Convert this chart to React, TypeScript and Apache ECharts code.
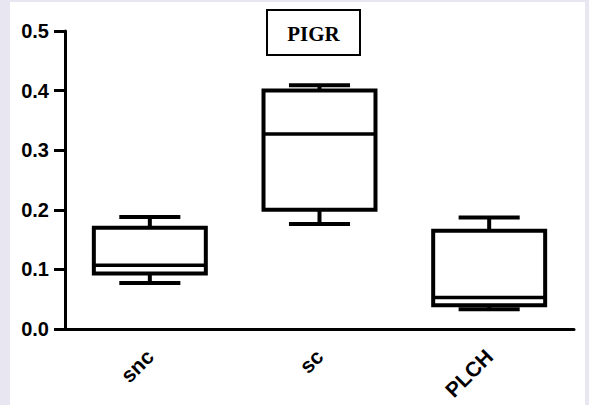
import React, { useEffect, useRef } from "react";
import * as echarts from "echarts";

// Group names on the x axis
const categories = ["snc", "sc", "PLCH"];

// Five-number summaries per group: [min, Q1, median, Q3, max]
const sncStats = [0.077, 0.093, 0.107, 0.170, 0.188];
const scStats = [0.176, 0.200, 0.327, 0.400, 0.409];
const plchStats = [0.033, 0.040, 0.053, 0.165, 0.187];

// Y axis range and step
const yMin = 0;
const yMax = 0.5;
const yStep = 0.1;

const chartTitle = "PIGR";

export default function App() {
  const ref = useRef<HTMLDivElement>(null);

  useEffect(() => {
    if (!ref.current) return;
    const chart = echarts.init(ref.current, undefined, { renderer: "svg" });

    const stats = [sncStats, scStats, plchStats];
    const data = stats.map((s, i) => [i, ...s]);

    const renderItem = (params: any, api: any) => {
      const cat = api.value(0);
      const lo = api.coord([cat, api.value(1)]);
      const q1 = api.coord([cat, api.value(2)]);
      const med = api.coord([cat, api.value(3)]);
      const q3 = api.coord([cat, api.value(4)]);
      const hi = api.coord([cat, api.value(5)]);
      const band = api.size([1, 0])[0];
      const bw = band * 0.66;
      const cw = band * 0.36;
      const x = lo[0];
      const stroke = { stroke: "#000", lineWidth: 4, fill: "none" };
      return {
        type: "group",
        children: [
          { type: "line", shape: { x1: x, y1: q3[1], x2: x, y2: hi[1] }, style: stroke },
          { type: "line", shape: { x1: x - cw / 2, y1: hi[1], x2: x + cw / 2, y2: hi[1] }, style: stroke },
          { type: "line", shape: { x1: x, y1: q1[1], x2: x, y2: lo[1] }, style: stroke },
          { type: "line", shape: { x1: x - cw / 2, y1: lo[1], x2: x + cw / 2, y2: lo[1] }, style: stroke },
          {
            type: "rect",
            shape: { x: x - bw / 2, y: q3[1], width: bw, height: q1[1] - q3[1] },
            style: { stroke: "#000", lineWidth: 4, fill: "#fff" },
          },
          { type: "line", shape: { x1: x - bw / 2, y1: med[1], x2: x + bw / 2, y2: med[1] }, style: { stroke: "#000", lineWidth: 3.5 } },
        ],
      };
    };

    const labelFont = {
      color: "#000",
      fontWeight: "bold",
      fontFamily: "'Liberation Sans', Arial, sans-serif",
    };

    chart.setOption({
      animation: false,
      backgroundColor: "#ffffff",
      grid: { left: 55, right: 11, top: 29, bottom: 76 },
      graphic: [
        {
          type: "group",
          left: 256,
          top: 7,
          children: [
            {
              type: "rect",
              shape: { x: 0, y: 0, width: 93, height: 45 },
              style: { fill: "#fff", stroke: "#000", lineWidth: 2 },
            },
            {
              type: "text",
              x: 46.5,
              y: 23.5,
              style: {
                text: chartTitle,
                fill: "#000",
                font: "bold 21px 'Liberation Serif', 'Times New Roman', serif",
                align: "center",
                verticalAlign: "middle",
              },
            },
          ],
        },
      ],
      xAxis: {
        type: "category",
        data: categories,
        boundaryGap: true,
        axisLine: { lineStyle: { color: "#000", width: 3 } },
        axisTick: { alignWithLabel: true, length: 9, lineStyle: { color: "#000", width: 3 } },
        axisLabel: { rotate: 45, margin: 24, fontSize: 21, ...labelFont },
        splitLine: { show: false },
      },
      yAxis: {
        type: "value",
        min: yMin,
        max: yMax,
        interval: yStep,
        axisLine: { show: true, lineStyle: { color: "#000", width: 3 } },
        axisTick: { show: true, inside: false, length: 11, lineStyle: { color: "#000", width: 3 } },
        axisLabel: {
          margin: 16,
          fontSize: 20,
          ...labelFont,
          formatter: (v: number) => v.toFixed(1),
        },
        splitLine: { show: false },
      },
      series: [
        {
          type: "custom",
          renderItem,
          data,
          encode: { x: 0, y: [1, 2, 3, 4, 5] },
          clip: false,
        },
      ],
    });

    return () => chart.dispose();
  }, []);

  return (
    <div
      style={{
        position: "absolute",
        left: 0,
        top: 0,
        width: 589,
        height: 405,
        background: "#e8e6f1",
      }}
    >
      <div
        ref={ref}
        style={{ position: "absolute", left: 10, top: 2, width: 575, height: 403 }}
      />
    </div>
  );
}
